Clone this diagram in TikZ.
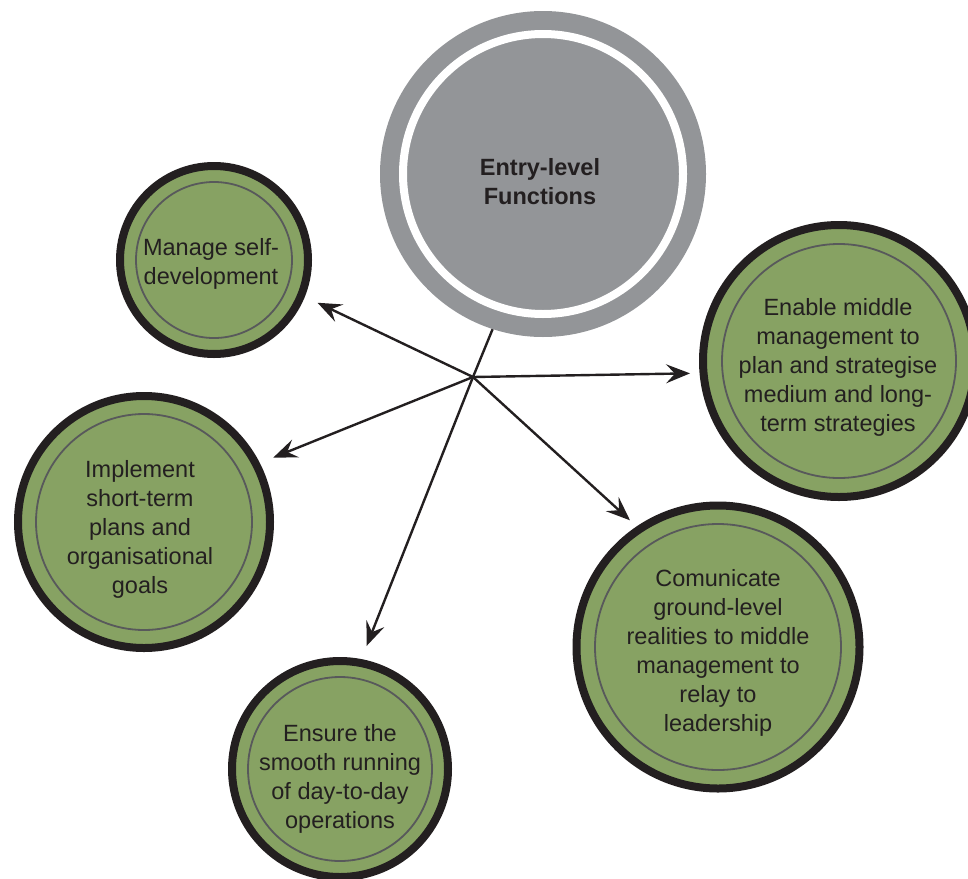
\documentclass[tikz,border=0pt]{standalone}
\usepackage{fontspec}
\setmainfont{Liberation Sans}
\usetikzlibrary{arrows.meta}
\definecolor{ink}{HTML}{231F20}
\definecolor{leaf}{RGB}{135,162,99}
\definecolor{stone}{HTML}{939598}
\definecolor{rim}{HTML}{58595B}

\begin{document}
\begin{tikzpicture}[x=1pt,y=-1pt,
  hubdisc/.style={circle, fill=stone, minimum size=326pt, inner sep=0pt},
  goal/.style={circle, fill=leaf, draw=ink, line width=8pt, inner sep=0pt, minimum size=#1},
  innerrim/.style={draw=rim, line width=1.8pt},
  goaltext/.style={align=center, text=ink, inner sep=0pt, font=\fontsize{23.5}{29}\selectfont},
  hubtext/.style={align=center, text=ink, inner sep=0pt, font=\bfseries\fontsize{23.5}{29}\selectfont},
  link/.style={draw=ink, line width=2.4pt},
  pointer/.style={link, -{Stealth[length=24pt,width=19pt,inset=9pt]}}
]
\useasboundingbox (0,0) rectangle (968,878);

% central disc with its white ring
\node[hubdisc] (core) at (543,174) {};
\draw[white, line width=8pt] (core.center) circle[radius=140pt];
\node[hubtext] (coret) at (540,182) {Entry-level\\Functions};

% the five function circles
\node[goal=188pt] (self) at (214,260) {};
\draw[innerrim] (self.center) circle[radius=78pt];
\node[goaltext] (selft) at (211,264) {Manage self-\\development};

\node[goal=272pt] (plan) at (839,361) {};
\draw[innerrim] (plan.center) circle[radius=117pt];
\node[goaltext] (plant) at (838,367) {Enable middle\\management to\\plan and strategise\\medium and long-\\term strategies};

\node[goal=252pt] (short) at (144,522) {};
\draw[innerrim] (short.center) circle[radius=108pt];
\node[goaltext] (shortt) at (140,529) {Implement\\short-term\\plans and\\organisational\\goals};

\node[goal=216pt] (daily) at (340,769) {};
\draw[innerrim] (daily.center) circle[radius=92pt];
\node[goaltext] (dailyt) at (340,779) {Ensure the\\smooth running\\of day-to-day\\operations};

\node[goal=283pt] (relay) at (718,647) {};
\draw[innerrim] (relay.center) circle[radius=123pt];
\node[goaltext] (relayt) at (718,653) {Comunicate\\ground-level\\realities to middle\\management to\\relay to\\leadership};

% connectors through the common hub
\coordinate (hub) at (473,377);
\draw[link] (core.252) -- (hub);
\draw[pointer, shorten >=14pt] (hub) -- (self.-22);
\draw[pointer, shorten >=9.5pt] (hub) -- (plan.185);
\draw[pointer, shorten >=9pt] (hub) -- (relay.124.7);
\draw[pointer, shorten >=14pt] (hub) -- (daily.79.5);
\draw[pointer, shorten >=14.5pt] (hub) -- (short.27.6);
\end{tikzpicture}
\end{document}
